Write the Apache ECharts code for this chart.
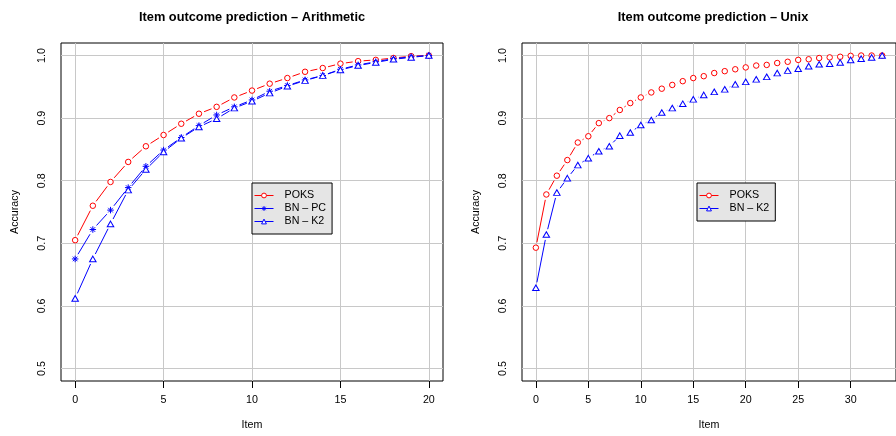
<!DOCTYPE html>
<html><head><meta charset="utf-8">
<script src="https://cdn.jsdelivr.net/npm/echarts@6/dist/echarts.min.js"></script>
<style>html,body{margin:0;padding:0;background:#fff}#c{width:896px;height:436px}</style>
</head><body><div id="c"></div>
<script>
// ---------- data ----------
const titleArith = 'Item outcome prediction \u2013 Arithmetic';
const titleUnix = 'Item outcome prediction \u2013 Unix';
const itemsArith = [0,1,2,3,4,5,6,7,8,9,10,11,12,13,14,15,16,17,18,19,20];
const poksArith  = [0.705,0.760,0.798,0.830,0.855,0.873,0.891,0.907,0.918,0.933,0.944,0.955,0.964,0.974,0.980,0.987,0.991,0.993,0.996,0.999,1.000];
const bnPcArith  = [0.675,0.722,0.753,0.789,0.823,0.849,0.869,0.888,0.905,0.918,0.929,0.943,0.952,0.961,0.968,0.978,0.985,0.990,0.995,0.998,1.000];
const bnK2Arith  = [0.612,0.675,0.731,0.785,0.818,0.846,0.868,0.886,0.899,0.916,0.927,0.940,0.951,0.960,0.968,0.977,0.984,0.989,0.994,0.997,1.000];
const itemsUnix = [0,1,2,3,4,5,6,7,8,9,10,11,12,13,14,15,16,17,18,19,20,21,22,23,24,25,26,27,28,29,30,31,32,33];
const poksUnix  = [0.693,0.778,0.808,0.833,0.861,0.871,0.892,0.900,0.913,0.924,0.933,0.941,0.947,0.953,0.959,0.964,0.967,0.972,0.975,0.978,0.981,0.984,0.985,0.988,0.990,0.993,0.994,0.996,0.997,0.998,0.9995,1.000,1.000,1.000];
const bnK2Unix  = [0.629,0.714,0.781,0.804,0.825,0.836,0.847,0.855,0.872,0.877,0.889,0.897,0.909,0.916,0.923,0.930,0.937,0.942,0.946,0.954,0.958,0.962,0.966,0.972,0.976,0.979,0.983,0.986,0.987,0.989,0.993,0.995,0.997,1.000];
const xTicksArith = [0,5,10,15,20];
const xTicksUnix = [0,5,10,15,20,25,30];
const yTicks = [0.5,0.6,0.7,0.8,0.9,1.0];
const yLimits = [0.5, 1.0];
const legendArith = ['POKS','BN \u2013 PC','BN \u2013 K2'];
const legendUnix = ['POKS','BN \u2013 K2'];

// ---------- styles ----------
const RED = '#ff0000', BLUE = '#0000ff', GRIDC = '#c8c8c8';
const FONT = '"Liberation Sans", Arial, Helvetica, sans-serif';
const FS = 10.7;
const GAP = 5.5;
const SYM = {
  circle: {symbol: 'circle', size: 5.5},
  star: {symbol: 'path://M0 5 L10 5 M5 0 L5 10 M1.5 1.5 L8.5 8.5 M1.5 8.5 L8.5 1.5', size: 6.5},
  tri: {symbol: 'path://M5 0 L10 8.66 L0 8.66 Z', size: [6.5, 5.6]}
};
const STYLE = {};
STYLE[legendArith[0]] = {color: RED, sym: SYM.circle};
STYLE[legendArith[1]] = {color: BLUE, sym: SYM.star};
STYLE[legendArith[2]] = {color: BLUE, sym: SYM.tri};

function rRange(lo, hi) { const p = 0.04 * (hi - lo); return [lo - p, hi + p]; }

function pts(xs, ys) { return xs.map((x, i) => [x, ys[i]]); }
function segs(xs, ys) {
  const out = [];
  for (let i = 0; i + 1 < xs.length; i++) out.push([xs[i], ys[i], xs[i+1], ys[i+1]]);
  return out;
}

function segSeries(gi, xs, ys, color) {
  return {
    type: 'custom', xAxisIndex: gi, yAxisIndex: gi, z: 2, silent: true,
    encode: {x: [0, 2], y: [1, 3]},
    data: segs(xs, ys),
    renderItem: function (params, api) {
      const p0 = api.coord([api.value(0), api.value(1)]);
      const p1 = api.coord([api.value(2), api.value(3)]);
      const dx = p1[0] - p0[0], dy = p1[1] - p0[1];
      const d = Math.hypot(dx, dy);
      if (d <= 2 * GAP) return null;
      const ux = dx / d, uy = dy / d;
      return {
        type: 'line',
        shape: {x1: p0[0] + ux * GAP, y1: p0[1] + uy * GAP, x2: p1[0] - ux * GAP, y2: p1[1] - uy * GAP},
        style: {stroke: color, lineWidth: 1, fill: null}
      };
    }
  };
}

function ptSeries(gi, name, xs, ys, extra) {
  const st = STYLE[name];
  const s = {
    type: 'line', name: name, xAxisIndex: gi, yAxisIndex: gi, z: 3,
    data: pts(xs, ys), symbol: st.sym.symbol, symbolSize: st.sym.size, showSymbol: true,
    lineStyle: {color: st.color, width: 1, opacity: 0},
    itemStyle: {color: '#ffffff', borderColor: st.color, borderWidth: 1},
    emphasis: {disabled: true}, silent: true
  };
  return Object.assign(s, extra || {});
}

function gridLines(xTicks) {
  return {
    silent: true, z: 1, symbol: ['none', 'none'], animation: false,
    label: {show: false}, emphasis: {disabled: true},
    lineStyle: {color: GRIDC, width: 1, type: 'solid'},
    data: xTicks.map(v => ({xAxis: v})).concat(yTicks.map(v => ({yAxis: v})))
  };
}

function xAxis(gi, range, ticks) {
  return {
    type: 'value', gridIndex: gi, min: range[0], max: range[1],
    name: 'Item', nameLocation: 'middle', nameGap: 39,
    nameTextStyle: {fontSize: FS, color: '#000', fontFamily: FONT},
    axisLine: {show: false},
    axisTick: {show: true, length: 7, customValues: ticks, lineStyle: {color: '#000'}},
    axisLabel: {show: true, customValues: ticks, margin: 14, fontSize: FS, color: '#000', fontFamily: FONT},
    splitLine: {show: false}
  };
}
function yAxis(gi) {
  const r = rRange(yLimits[0], yLimits[1]);
  return {
    type: 'value', gridIndex: gi, min: r[0], max: r[1],
    name: 'Accuracy', nameLocation: 'middle', nameGap: 40, nameRotate: 90,
    nameTextStyle: {fontSize: FS, color: '#000', fontFamily: FONT},
    axisLine: {show: false},
    axisTick: {show: true, length: 7, customValues: yTicks, lineStyle: {color: '#000'}},
    axisLabel: {show: true, customValues: yTicks, rotate: 90, margin: 13, fontSize: FS, color: '#000', fontFamily: FONT,
      formatter: v => Number(v).toFixed(1)},
    splitLine: {show: false}
  };
}
function legend(names, left, top) {
  return {
    data: names.map(n => ({
      name: n,
      itemStyle: {color: '#ffffff', borderColor: STYLE[n].color, borderWidth: 1}
    })),
    orient: 'vertical', left: left, top: top,
    padding: [6, 6, 6, 2], itemGap: 0, itemWidth: 19, itemHeight: 6,
    backgroundColor: '#e5e5e5', borderColor: '#000', borderWidth: 1, borderRadius: 0,
    selectedMode: false,
    itemStyle: {color: '#ffffff', borderWidth: 1},
    lineStyle: {opacity: 1, width: 1},
    textStyle: {fontSize: FS, color: '#000', fontFamily: FONT, lineHeight: 13, padding: [0, 0, 0, 6]}
  };
}

const gridA = {left: 61, top: 43, width: 382, height: 343};
const gridU = {left: 522, top: 43, width: 382, height: 343};

const option = {
  animation: false,
  backgroundColor: '#fff',
  textStyle: {fontFamily: FONT},
  title: [
    {text: titleArith, left: gridA.left + gridA.width / 2, top: 11, padding: 0, textAlign: 'center',
      textStyle: {fontSize: 12.8, fontWeight: 'bold', color: '#000', fontFamily: FONT}},
    {text: titleUnix, left: gridU.left + gridU.width / 2, top: 11, padding: 0, textAlign: 'center',
      textStyle: {fontSize: 12.8, fontWeight: 'bold', color: '#000', fontFamily: FONT}}
  ],
  grid: [
    Object.assign({show: true, borderColor: '#000', borderWidth: 1, backgroundColor: '#fff'}, gridA),
    Object.assign({show: true, borderColor: '#000', borderWidth: 1, backgroundColor: '#fff'}, gridU)
  ],
  xAxis: [
    xAxis(0, rRange(itemsArith[0], itemsArith[itemsArith.length - 1]), xTicksArith),
    xAxis(1, rRange(itemsUnix[0], itemsUnix[itemsUnix.length - 1]), xTicksUnix)
  ],
  yAxis: [yAxis(0), yAxis(1)],
  legend: [legend(legendArith, 252, 183), legend(legendUnix, 697, 183)],
  series: [
    segSeries(0, itemsArith, poksArith, RED),
    segSeries(0, itemsArith, bnPcArith, BLUE),
    segSeries(0, itemsArith, bnK2Arith, BLUE),
    ptSeries(0, legendArith[0], itemsArith, poksArith, {markLine: gridLines(xTicksArith)}),
    ptSeries(0, legendArith[1], itemsArith, bnPcArith),
    ptSeries(0, legendArith[2], itemsArith, bnK2Arith),
    segSeries(1, itemsUnix, poksUnix, RED),
    segSeries(1, itemsUnix, bnK2Unix, BLUE),
    ptSeries(1, legendUnix[0], itemsUnix, poksUnix, {markLine: gridLines(xTicksUnix)}),
    ptSeries(1, legendUnix[1], itemsUnix, bnK2Unix)
  ]
};

const chart = echarts.init(document.getElementById('c'), null, {renderer: 'canvas'});
chart.setOption(option);
</script>
</body></html>
